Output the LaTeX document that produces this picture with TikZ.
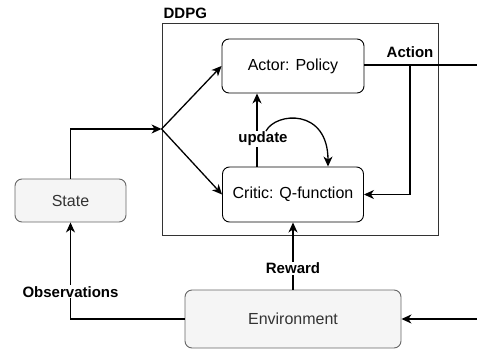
\documentclass[tikz,border=0pt]{standalone}
\usepackage{fontspec}
\setmainfont{Liberation Sans}
\usetikzlibrary{arrows.meta, positioning, calc}
\definecolor{envfill}{HTML}{F5F5F5}
\definecolor{envline}{HTML}{666666}
\definecolor{envtext}{HTML}{333333}
\tikzset{> = { Stealth[length = 10pt, width = 9pt, inset = 3pt] }}

\begin{document}
\begin{tikzpicture}[x = 1pt, y = -1pt, line width = 1.3pt,
		block/.style = { draw, line width = 0.9pt, rounded corners = 7pt, font = \fontsize{16}{18}\selectfont },
		envbox/.style = { block, draw = envline, fill = envfill, text = envtext },
		tag/.style = { font = \fontsize{15}{17}\selectfont\bfseries, fill = white, inner sep = 1pt }]
		\useasboundingbox (0,0) rectangle (477,354);

		\node [draw = envtext, line width = 0.9pt, minimum width = 276pt, minimum height = 212pt] (ddpg) at (300,129) {};
		\node [font = \fontsize{15}{17}\selectfont\bfseries, anchor = south west, inner sep = 0pt] (ddpgname) at (163,19) {DDPG};

		\node [block, minimum width = 142pt, minimum height = 54pt] (actor)  at (293,66)    {Actor: Policy};
		\node [block, minimum width = 141pt, minimum height = 55pt] (critic) at (293,194.5) {Critic: Q-function};
		\node [envbox, minimum width = 111pt, minimum height = 43pt] (state) at (70.5,200.5) {State};
		\node [envbox, minimum width = 216pt, minimum height = 58pt] (env)   at (293,319)   {Environment};

		\coordinate (split)   at (ddpg.west);
		\coordinate (actout)  at (477,65);
		\coordinate (branch)  at (410,65);
		\coordinate (envin)   at (477,319);
		\coordinate (updfrom) at (266,131);

		% observations and state into the agent
		\draw [->] (env.west) -| (state.south) node [tag, pos = 0.64] (obs) {Observations};
		\draw [->] (state.north) |- (split);
		\draw [->] (split) -- (actor.west);
		\draw [->] (split) -- (critic.west);

		% action out, fed back to the critic
		\draw (actor.east |- actout) -- (actout);
		\draw [->] (branch) |- (critic.east);
		\node [tag, fill = none] (action) at (410,52) {Action};

		% update
		\draw [->] (critic.north -| 257,0) -- (actor.south -| 257,0);
		\node [tag] (update) at (263,139) {update};
		\draw [->] (updfrom) .. controls (276,112) and (328,108) .. ([xshift = 35pt]critic.north);

		% reward and environment input
		\draw [->] (env) -- (critic) node [tag, pos = 0.32] (reward) {Reward};
		\draw [->] (envin) -- (env.east);
	\end{tikzpicture}
\end{document}
